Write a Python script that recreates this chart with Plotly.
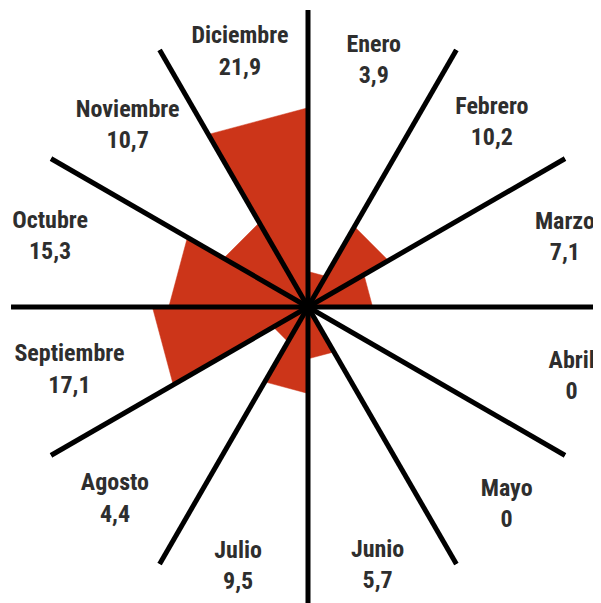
import plotly.graph_objects as go

months = ["Enero", "Febrero", "Marzo", "Abril", "Mayo", "Junio",
          "Julio", "Agosto", "Septiembre", "Octubre", "Noviembre", "Diciembre"]
values = [3.9, 10.2, 7.1, 0, 0, 5.7, 9.5, 4.4, 17.1, 15.3, 10.7, 21.9]

R_MAX = 32.64         # radial axis maximum (spokes reach the edge)
PX_PER_UNIT = 9.1
# label distance from the centre, in pixels (layout only)
label_dist_px = [254, 260, 266, 273, 281, 269, 270, 273, 247, 267, 255, 263]
SECTOR = 360 / len(months)
RED = "#CC3519"
TEXT = "#2E2E2E"


def fmt(v):
    return "0" if v == 0 else f"{v:.1f}".replace(".", ",")


fig = go.Figure()

# wedges (straight-edged triangles)
for i, (m, v) in enumerate(zip(months, values)):
    if v <= 0:
        continue
    a0, a1 = i * SECTOR, (i + 1) * SECTOR
    fig.add_trace(go.Scatterpolar(
        r=[0, v, v, 0], theta=[a0, a0, a1, a0],
        mode="lines", fill="toself", fillcolor=RED,
        line=dict(color=RED, width=0.5), hoverinfo="skip", showlegend=False))

# spokes
for i in range(len(months)):
    a = i * SECTOR
    fig.add_trace(go.Scatterpolar(
        r=[0, R_MAX], theta=[a, a], mode="lines",
        line=dict(color="black", width=5), hoverinfo="skip", showlegend=False))

# labels
fig.add_trace(go.Scatterpolar(
    r=[d / PX_PER_UNIT for d in label_dist_px],
    theta=[(i + 0.5) * SECTOR for i in range(len(months))],
    mode="text",
    text=[f"{m}<br>{fmt(v)}" for m, v in zip(months, values)],
    textposition="middle center",
    textfont=dict(family="Roboto Condensed, Open Sans Condensed, DejaVu Sans Condensed, sans-serif",
                  size=24, color=TEXT, weight="bold"),
    cliponaxis=False, hoverinfo="skip", showlegend=False))

fig.update_layout(
    width=601, height=603,
    margin=dict(l=0, r=0, t=0, b=0),
    paper_bgcolor="white",
    showlegend=False,
    polar=dict(
        domain=dict(x=[3 / 601, 597 / 601], y=[7 / 603, 601 / 603]),
        bgcolor="white",
        radialaxis=dict(range=[0, R_MAX], visible=False, showgrid=False,
                        showline=False, showticklabels=False, ticks=""),
        angularaxis=dict(rotation=90, direction="clockwise", visible=False,
                         showgrid=False, showline=False, showticklabels=False,
                         ticks=""),
    ),
)

fig.write_html("out.html")
